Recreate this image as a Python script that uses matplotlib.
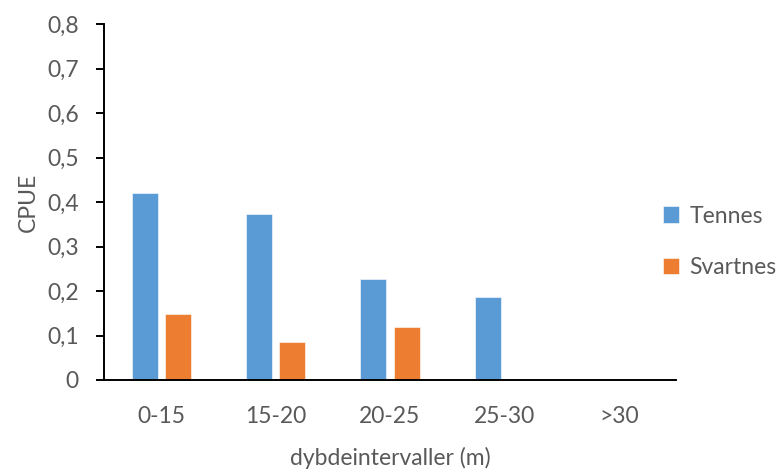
import matplotlib
matplotlib.use("Agg")
import matplotlib.pyplot as plt
import numpy as np

categories = ["0-15", "15-20", "20-25", "25-30", ">30"]
tennes = [0.42, 0.372, 0.227, 0.186, 0.0]
svartnes = [0.148, 0.085, 0.12, 0.0, 0.0]
yticks = [0, 0.1, 0.2, 0.3, 0.4, 0.5, 0.6, 0.7, 0.8]
ytick_labels = ["0", "0,1", "0,2", "0,3", "0,4", "0,5", "0,6", "0,7", "0,8"]

plt.rcParams['font.family'] = ['Lato', 'DejaVu Sans']
txt = "#595959"
fs = 16.5

fig = plt.figure(figsize=(7.83, 4.70), dpi=100)
ax = fig.add_axes([104/783, 1 - 380/470, 572/783, 356/470])

x = np.arange(len(categories))
w = 0.227
off = 0.145
ax.bar(x - off, tennes, w, color="#5B9BD5", edgecolor="white", linewidth=0.4, label="Tennes")
ax.bar(x + off, svartnes, w, color="#ED7D31", edgecolor="white", linewidth=0.4, label="Svartnes")

ax.set_xlim(-0.5, len(categories) - 0.5)
ax.set_ylim(0, 0.8)
ax.set_yticks(yticks)
ax.set_yticklabels(ytick_labels)
ax.set_xticks(x)
ax.set_xticklabels(categories)

for s in ["top", "right"]:
    ax.spines[s].set_visible(False)
for s in ["left", "bottom"]:
    ax.spines[s].set_linewidth(1.4)
    ax.spines[s].set_color("black")

ax.tick_params(axis="y", direction="out", length=6, width=1.4, colors="black",
               labelcolor=txt, labelsize=fs, pad=12)
ax.tick_params(axis="x", length=0, labelcolor=txt, labelsize=fs, pad=19)

ax.set_xlabel("dybdeintervaller (m)", fontsize=fs, color=txt, labelpad=14)
ax.set_ylabel("CPUE", fontsize=fs, color=txt, labelpad=6)

fig.legend(loc="center left", bbox_to_anchor=(663/783, 1 - 242/470), frameon=False,
           borderpad=0, borderaxespad=0,
           fontsize=fs, labelcolor=txt, handlelength=0.7, handleheight=0.7,
           handletextpad=0.45, labelspacing=1.35)

fig.savefig("out.png", dpi=100)
